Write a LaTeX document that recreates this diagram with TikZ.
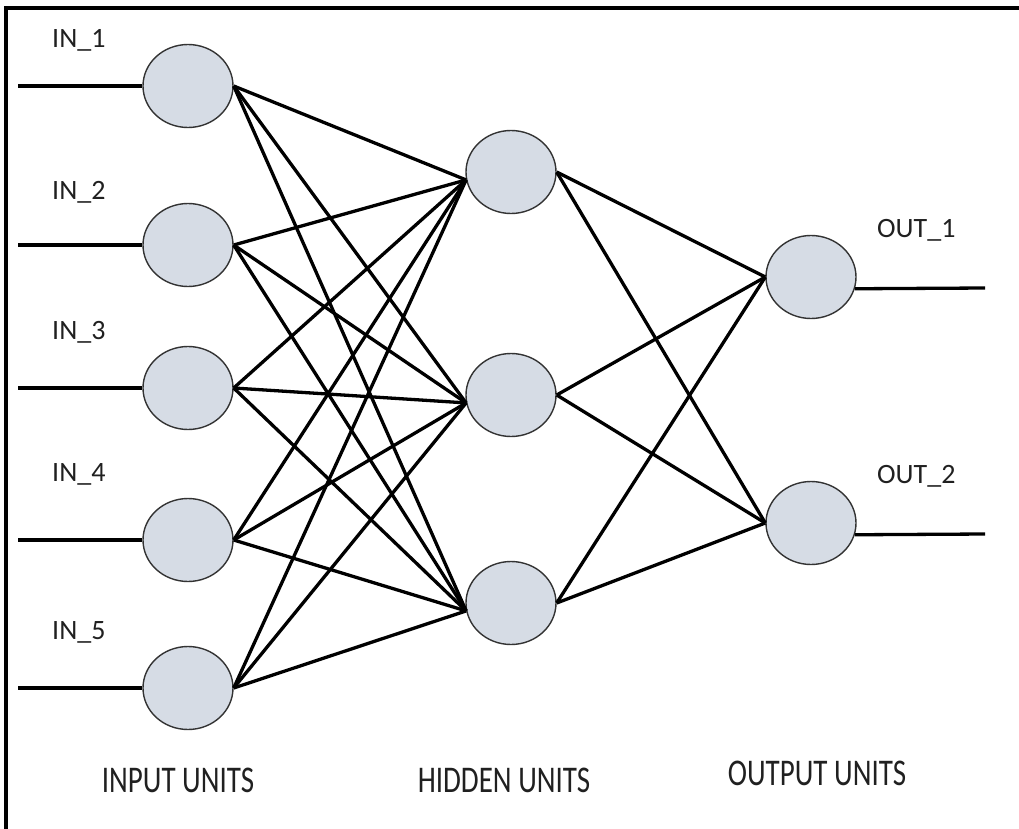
\documentclass[tikz,border=0pt]{standalone}
\usepackage{fontspec}
\setmainfont{Carlito}
\usepackage{tikz}
\usetikzlibrary{shapes.geometric}
\definecolor{nFill}{HTML}{D6DCE5}
\definecolor{nLine}{HTML}{333333}
\definecolor{tGray}{HTML}{202020}
\tikzset{
  unit/.style={ellipse, draw=nLine, fill=nFill, line width=1.4pt,
    minimum width=90pt, minimum height=83pt, inner sep=0pt},
  wire/.style={line width=3.3pt},
  lbl/.style={font=\fontsize{28}{30}\selectfont, text=tGray, inner sep=0pt, anchor=base west},
  layername/.style={font=\fontsize{29}{32}\selectfont, text=tGray, inner sep=0pt,
    anchor=base, yscale=1.3, transform shape}
}
\begin{document}
\begin{tikzpicture}[x=1pt, y=-1pt]
  \useasboundingbox (0,0) rectangle (1019,829);
  \draw[line width=3.4pt] (1019,8) -- (6,8) -- (6,829);

  % input units
  \foreach \i/\y/\b in {1/86/48, 2/245/199, 3/388/339, 4/540/481, 5/688/639} {
    \node[unit] (in\i) at (188,\y) {};
    \coordinate (lead\i) at (18,\y);
    \draw[wire] (lead\i) -- (in\i.west);
    \node[lbl] (inlbl\i) at (52,\b) {IN\_\i};
  }

  % hidden units
  \foreach \j/\y in {1/172, 2/395, 3/603}
    \node[unit] (hid\j) at (511,\y) {};

  % output units
  \foreach \k/\y/\b in {1/277/237, 2/523/483} {
    \node[unit] (out\k) at (811,\y) {};
    \coordinate (tail\k) at (985,\y+11);
    \draw[wire] (out\k.-15) -- (tail\k);
    \node[lbl] (outlbl\k) at (877,\b) {OUT\_\k};
  }

  % weights
  \foreach \i in {1,...,5}
    \foreach \j in {1,2,3}
      \draw[wire] (in\i.east) -- (hid\j.190);
  \foreach \j in {1,2,3}
    \foreach \k in {1,2}
      \draw[wire] (hid\j.east) -- (out\k.west);

  \node[layername] (inname) at (178,792) {INPUT UNITS};
  \node[layername] (hidname) at (504,792) {HIDDEN UNITS};
  \node[layername] (outname) at (817,785) {OUTPUT UNITS};
\end{tikzpicture}
\end{document}
